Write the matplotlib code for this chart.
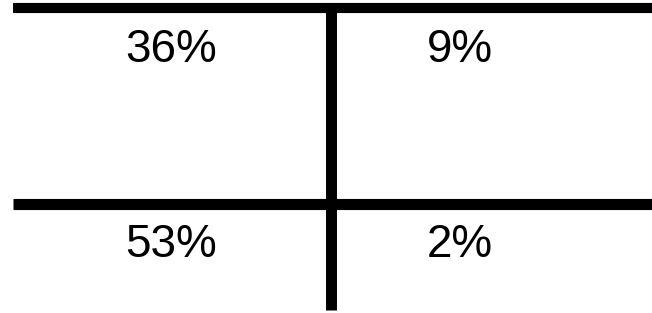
import matplotlib.pyplot as plt

plt.rcParams['font.family'] = ['Liberation Sans', 'DejaVu Sans']

# 2x2 table of shares (rows top->bottom, cols left->right)
values = [[36, 9],
          [53, 2]]
col_x = [171, 460]   # text centres, pixels
row_y = [50, 245]

fig = plt.figure(figsize=(6.52, 3.13), dpi=100)
ax = fig.add_axes([0, 0, 1, 1])
ax.set_xlim(0, 652)
ax.set_ylim(313, 0)
ax.axis('off')

ax.hlines(8.3, 13, 652, color='black', lw=7.3, capstyle='butt')
ax.hlines(204, 13, 652, color='black', lw=8.0, capstyle='butt')
ax.vlines(330.5, 8, 310, color='black', lw=7.9, capstyle='butt')

for i, row in enumerate(values):
    for j, v in enumerate(row):
        ax.text(col_x[j], row_y[i], '%d%%' % v, ha='center', va='center',
                fontsize=33, color='black')

fig.savefig('out.png', dpi=100)
